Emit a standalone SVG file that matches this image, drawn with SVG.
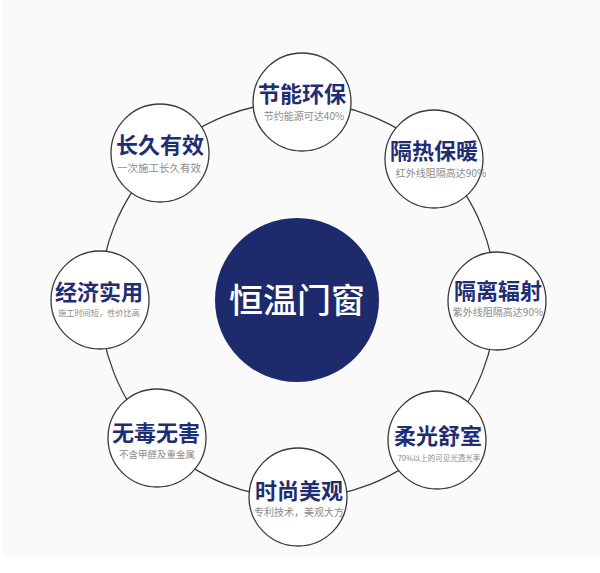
<svg xmlns="http://www.w3.org/2000/svg" width="600" height="573" viewBox="0 0 600 573">
<style>
.node{fill:#ffffff;stroke:#3a3a3a;stroke-width:1.3}
.ring{fill:none;stroke:#3a3a3a;stroke-width:1.3}
.t{font-family:"Noto Sans CJK SC","Noto Sans",sans-serif;font-weight:bold;font-size:22px;fill:#1f2d72;text-anchor:middle}
.s{font-family:"Noto Sans CJK SC","Noto Sans",sans-serif;font-size:10px;fill:#8a8a8a;text-anchor:middle}
.c{font-family:"Noto Sans CJK SC","Noto Sans",sans-serif;font-weight:500;font-size:34px;fill:#ffffff;text-anchor:middle}
</style>
<rect x="0" y="0" width="600" height="573" fill="#ffffff"/>
<rect x="2" y="0" width="598" height="556" fill="#fafafa"/>
<g id="connectors">
<circle class="ring" cx="298" cy="300" r="198"/>
</g>
<g id="center">
<circle cx="297" cy="300" r="82" fill="#1d2b6c"/>
<text class="c" x="297" y="313">恒温门窗</text>
</g>
<g id="n-top">
<circle class="node" cx="302" cy="102" r="49"/>
<text class="t" x="302" y="102">节能环保</text>
<text class="s" x="304" y="120">节约能源可达40%</text>
</g>
<g id="n-ur">
<circle class="node" cx="434" cy="159" r="49"/>
<text class="t" x="434" y="159">隔热保暖</text>
<text class="s" x="441" y="177">红外线阻隔高达90%</text>
</g>
<g id="n-right">
<circle class="node" cx="497" cy="301" r="49"/>
<text class="t" x="498" y="299">隔离辐射</text>
<text class="s" x="498" y="316">紫外线阻隔高达90%</text>
</g>
<g id="n-lr">
<circle class="node" cx="437" cy="440" r="49"/>
<text class="t" x="438" y="444">柔光舒室</text>
<text class="s" x="439" y="461" style="font-size:7.5px">70%以上的可见光透光率</text>
</g>
<g id="n-bottom">
<circle class="node" cx="298" cy="497" r="49"/>
<text class="t" x="299" y="499">时尚美观</text>
<text class="s" x="299" y="516">专利技术，美观大方</text>
</g>
<g id="n-ll">
<circle class="node" cx="157" cy="438" r="49"/>
<text class="t" x="156" y="441">无毒无害</text>
<text class="s" x="157" y="458" style="font-size:9.5px">不含甲醛及重金属</text>
</g>
<g id="n-left">
<circle class="node" cx="100" cy="300" r="49"/>
<text class="t" x="99" y="300">经济实用</text>
<text class="s" x="99" y="316" style="font-size:8.2px">施工时间短，性价比高</text>
</g>
<g id="n-ul">
<circle class="node" cx="160" cy="153" r="49"/>
<text class="t" x="160" y="153">长久有效</text>
<text class="s" x="159" y="172" style="font-size:10.5px">一次施工长久有效</text>
</g>
</svg>
